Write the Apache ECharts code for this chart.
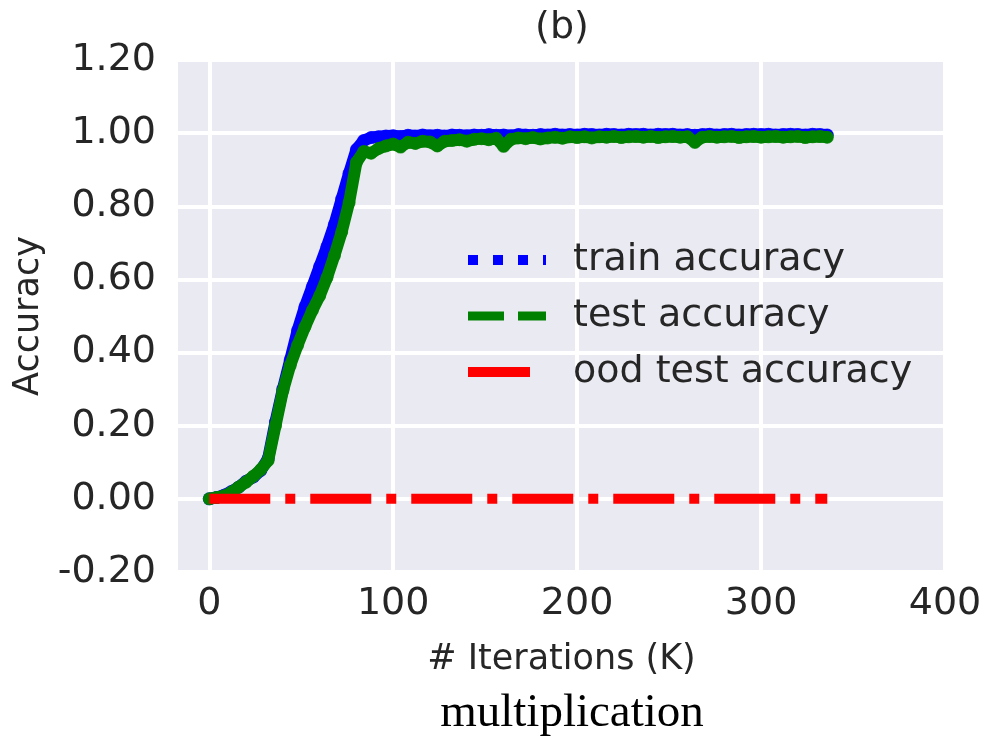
<!DOCTYPE html>
<html>
<head>
<meta charset="utf-8">
<script src="https://cdn.jsdelivr.net/npm/echarts@6/dist/echarts.min.js"></script>
<style>
  html, body { margin: 0; padding: 0; background: #fff; }
  #chart { width: 993px; height: 740px; }
</style>
</head>
<body>
<div id="chart"></div>
<script>
// iterations in K, one checkpoint every 4K
var iters = [0, 4, 8, 12, 16, 20, 24, 28, 32, 36, 40, 44, 48, 52, 56, 60, 64, 68, 72, 76, 80, 84, 88, 92, 96,
    100, 104, 108, 112, 116, 120, 124, 128, 132, 136, 140, 144, 148, 152, 156, 160, 164, 168, 172, 176, 180,
    184, 188, 192, 196, 200, 204, 208, 212, 216, 220, 224, 228, 232, 236, 240, 244, 248, 252, 256, 260, 264,
    268, 272, 276, 280, 284, 288, 292, 296, 300, 304, 308, 312, 316, 320, 324, 328, 332, 336];

var trainAcc = [0.000, 0.004, 0.010, 0.020, 0.032, 0.048, 0.060, 0.078, 0.110, 0.210, 0.300, 0.380, 0.460,
    0.525, 0.580, 0.635, 0.690, 0.750, 0.820, 0.890, 0.955, 0.980, 0.988, 0.990, 0.992,
    0.993, 0.991, 0.994, 0.992, 0.995, 0.993, 0.994, 0.992, 0.995, 0.994, 0.993, 0.995, 0.994, 0.996, 0.994,
    0.995, 0.993, 0.996, 0.995, 0.994, 0.996, 0.995, 0.997, 0.995, 0.996, 0.995, 0.997, 0.996, 0.995, 0.997,
    0.996, 0.995, 0.997, 0.996, 0.997, 0.995, 0.997, 0.996, 0.997, 0.995, 0.996, 0.994, 0.996, 0.997, 0.995,
    0.996, 0.997, 0.995, 0.996, 0.997, 0.996, 0.997, 0.995, 0.996, 0.997, 0.996, 0.995, 0.997, 0.996, 0.995];

var testAcc = [0.000, 0.004, 0.008, 0.018, 0.032, 0.046, 0.062, 0.080, 0.105, 0.200, 0.295, 0.365, 0.420,
    0.470, 0.515, 0.555, 0.605, 0.665, 0.730, 0.810, 0.920, 0.950, 0.945, 0.958, 0.965,
    0.970, 0.962, 0.975, 0.972, 0.978, 0.976, 0.965, 0.978, 0.980, 0.982, 0.978, 0.983, 0.985, 0.982, 0.986,
    0.964, 0.983, 0.987, 0.985, 0.988, 0.984, 0.987, 0.989, 0.986, 0.990, 0.988, 0.990, 0.987, 0.990, 0.989,
    0.991, 0.988, 0.990, 0.991, 0.989, 0.991, 0.988, 0.990, 0.991, 0.989, 0.990, 0.975, 0.989, 0.991, 0.989,
    0.990, 0.991, 0.988, 0.990, 0.991, 0.989, 0.990, 0.991, 0.989, 0.990, 0.991, 0.988, 0.990, 0.991, 0.989];

var oodIters = [0, 84, 168, 252, 336];
var oodAcc = [0, 0, 0, 0, 0];

var xTicks = [0, 100, 200, 300, 400];
var seriesNames = ['train accuracy', 'test accuracy', 'ood test accuracy'];

function pairs(xs, ys) {
    return xs.map(function (x, i) { return [x, ys[i]]; });
}

var FONT = 'DejaVu Sans';
var TXT = '#262626';
var noDot = { opacity: 0 }; // hide the circle that the legend puts on line icons

var chart = echarts.init(document.getElementById('chart'));

var option = {
    animation: false,
    backgroundColor: '#ffffff',
    textStyle: { fontFamily: FONT, color: TXT },
    title: [{
        text: '(b)',
        left: 562,
        top: 9,
        padding: 0,
        textAlign: 'center',
        textStyle: { fontFamily: FONT, fontSize: 38, fontWeight: 'normal', color: TXT }
    }, {
        text: 'multiplication',
        left: 572,
        top: 690,
        padding: 0,
        textAlign: 'center',
        textStyle: { fontFamily: 'Liberation Serif', fontSize: 47, fontWeight: 'normal', color: '#000' }
    }],
    grid: {
        left: 178,
        right: 48,
        top: 60,
        bottom: 168,
        show: true,
        backgroundColor: '#EAEAF2',
        borderWidth: 0
    },
    legend: {
        orient: 'vertical',
        left: 463,
        top: 238,
        padding: 0,
        itemWidth: 78,
        itemHeight: 14,
        itemGap: 12,
        selectedMode: false,
        textStyle: { fontFamily: FONT, fontSize: 38, color: TXT, lineHeight: 44, padding: [0, 0, 0, 22] },
        data: [
            { name: seriesNames[0], itemStyle: noDot, lineStyle: { type: [10, 15], width: 10, cap: 'butt' } },
            { name: seriesNames[1], itemStyle: noDot, lineStyle: { type: [36, 14], width: 9, cap: 'butt' } },
            { name: seriesNames[2], itemStyle: noDot, lineStyle: { type: [62, 40], width: 10, cap: 'butt' } }
        ]
    },
    xAxis: {
        type: 'value',
        min: -17,
        max: 400,
        name: '# Iterations (K)',
        nameLocation: 'middle',
        nameGap: 70,
        nameTextStyle: { fontFamily: FONT, fontSize: 35, color: TXT },
        axisLine: { show: false },
        axisTick: { show: false, customValues: xTicks },
        axisLabel: { customValues: xTicks, fontFamily: FONT, fontSize: 38, color: TXT, margin: 13 },
        splitLine: { show: true, lineStyle: { color: '#ffffff', width: 4 } }
    },
    yAxis: {
        type: 'value',
        min: -0.2,
        max: 1.2,
        interval: 0.2,
        name: 'Accuracy',
        nameLocation: 'middle',
        nameGap: 128,
        nameTextStyle: { fontFamily: FONT, fontSize: 35, color: TXT },
        axisLine: { show: false },
        axisTick: { show: false },
        axisLabel: {
            fontFamily: FONT, fontSize: 38, color: TXT, margin: 22,
            formatter: function (v) { return v.toFixed(2); }
        },
        splitLine: { show: true, lineStyle: { color: '#ffffff', width: 4 } }
    },
    series: [{
        name: seriesNames[0],
        type: 'line',
        data: pairs(iters, trainAcc),
        symbol: 'none',
        lineStyle: { color: '#0000ff', width: 12, type: 'solid', join: 'round', cap: 'round' },
        itemStyle: { color: '#0000ff' },
        z: 2
    }, {
        name: 'train dots',
        type: 'scatter',
        data: pairs(iters, trainAcc),
        symbolSize: 13,
        itemStyle: { color: '#0000ff' },
        z: 2
    }, {
        name: seriesNames[1],
        type: 'line',
        data: pairs(iters, testAcc),
        symbol: 'none',
        lineStyle: { color: '#008000', width: 12, type: 'solid', join: 'round', cap: 'round' },
        itemStyle: { color: '#008000' },
        z: 3
    }, {
        name: 'test dots',
        type: 'scatter',
        data: pairs(iters, testAcc),
        symbolSize: 13,
        itemStyle: { color: '#008000' },
        z: 3
    }, {
        name: seriesNames[2],
        type: 'line',
        data: pairs(oodIters, oodAcc),
        symbol: 'none',
        lineStyle: { color: '#ff0000', width: 10, type: [61, 15, 10, 15], cap: 'butt' },
        itemStyle: { color: '#ff0000' },
        z: 4
    }]
};

chart.setOption(option);
</script>
</body>
</html>
